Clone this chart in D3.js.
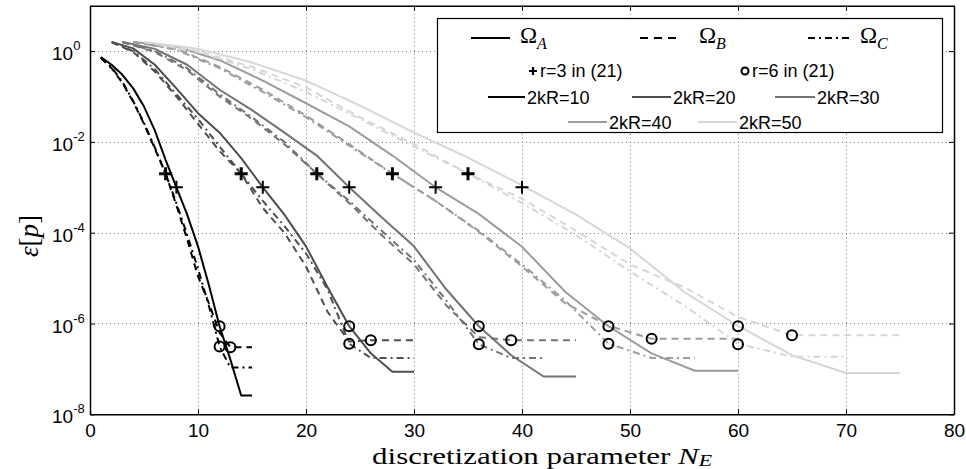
<!DOCTYPE html>
<html>
<head>
<meta charset="utf-8">
<script src="https://cdn.jsdelivr.net/npm/d3@7"></script>
<style>
  body { margin: 0; background: #fff; }
  svg { display: block; }
</style>
</head>
<body>
<svg id="chart" width="966" height="469"></svg>
<script>
// ---- axis ticks ----
const xTickValues = [0, 10, 20, 30, 40, 50, 60, 70, 80];
const xTickLabels = ["0", "10", "20", "30", "40", "50", "60", "70", "80"];
const yTickValues = [1e-8, 1e-6, 1e-4, 1e-2, 1e0];
const yTickExponents = ["-8", "-6", "-4", "-2", "0"];

// ---- discretization parameter N_E for each 2kR ----
const nE10 = [1, 2, 3, 4, 5, 6, 7, 8, 9, 10, 11, 12, 13, 14, 15];
const nE20 = [2, 4, 6, 8, 10, 12, 14, 16, 18, 20, 22, 24, 26, 28, 30];
const nE30 = [3, 6, 9, 12, 15, 18, 21, 24, 27, 30, 33, 36, 39, 42, 45];
const nE40 = [4, 8, 12, 16, 20, 24, 28, 32, 36, 40, 44, 48, 52, 56, 60];
const nE50 = [5, 10, 15, 20, 25, 30, 35, 40, 45, 50, 55, 60, 65, 70, 75];

// ---- relative error eps[p]; A = Omega_A, B = Omega_B, C = Omega_C ----
const errA10 = [0.74, 0.50, 0.30, 0.151, 0.060, 0.018, 4.0e-3, 1.0e-3, 2.5e-4, 5.0e-5, 7.1e-6, 8.7e-7, 1.6e-7, 2.6e-8, 2.6e-8];
const errB10 = [0.71, 0.42, 0.20, 0.076, 0.025, 7.1e-3, 2.0e-3, 4.0e-4, 7.1e-5, 1.1e-5, 2.8e-6, 6.3e-7, 3.0e-7, 3.0e-7, 3.0e-7];
const errC10 = [0.71, 0.44, 0.21, 0.079, 0.026, 7.6e-3, 2.0e-3, 4.5e-4, 8.9e-5, 1.6e-5, 2.5e-6, 3.1e-7, 1.07e-7, 1.07e-7, 1.07e-7];

const errA20 = [1.58, 1.15, 0.50, 0.151, 0.043, 0.016, 4.4e-3, 1.0e-3, 2.5e-4, 5.0e-5, 6.3e-6, 8.7e-7, 2.2e-7, 8.7e-8, 8.7e-8];
const errB20 = [1.58, 0.955, 0.355, 0.10, 0.025, 6.3e-3, 2.0e-3, 3.5e-4, 1.0e-4, 1.8e-5, 1.8e-6, 4.0e-7, 4.3e-7, 4.3e-7, 4.3e-7];
const errC20 = [1.58, 1.0, 0.40, 0.112, 0.032, 7.9e-3, 2.0e-3, 5.0e-4, 1.4e-4, 3.5e-5, 5.6e-6, 3.6e-7, 1.74e-7, 1.74e-7, 1.74e-7];

const errA30 = [1.58, 1.12, 0.50, 0.141, 0.050, 0.016, 5.0e-3, 1.0e-3, 2.2e-4, 5.0e-5, 5.6e-6, 8.7e-7, 2.0e-7, 6.8e-8, 6.8e-8];
const errB30 = [1.58, 0.955, 0.38, 0.10, 0.032, 8.9e-3, 2.0e-3, 4.5e-4, 8.9e-5, 2.0e-5, 2.5e-6, 5.0e-7, 4.3e-7, 4.3e-7, 4.3e-7];
const errC30 = [1.58, 1.0, 0.42, 0.112, 0.035, 0.010, 2.0e-3, 5.0e-4, 1.1e-4, 2.5e-5, 3.2e-6, 3.5e-7, 1.74e-7, 1.74e-7];

const errA40 = [1.58, 1.26, 0.63, 0.224, 0.071, 0.022, 5.0e-3, 1.0e-3, 2.6e-4, 4.9e-5, 5.0e-6, 8.7e-7, 2.2e-7, 9.1e-8, 9.1e-8];
const errB40 = [1.58, 1.12, 0.45, 0.141, 0.038, 8.9e-3, 2.0e-3, 5.0e-4, 1.05e-4, 1.8e-5, 2.8e-6, 8.9e-7, 4.6e-7, 4.6e-7, 4.6e-7];
const errC40 = [1.58, 1.07, 0.42, 0.126, 0.035, 8.3e-3, 2.0e-3, 5.0e-4, 1.1e-4, 2.0e-5, 3.2e-6, 3.6e-7, 1.74e-7, 1.74e-7];

const errA50 = [1.58, 1.12, 0.56, 0.224, 0.063, 0.016, 4.5e-3, 1.1e-3, 2.5e-4, 4.5e-5, 5.0e-6, 8.9e-7, 2.0e-7, 8.1e-8, 8.1e-8];
const errB50 = [1.58, 1.0, 0.45, 0.158, 0.035, 8.9e-3, 2.0e-3, 5.6e-4, 1.1e-4, 2.0e-5, 6.3e-6, 1.4e-6, 5.5e-7, 5.5e-7, 5.5e-7];
const errC50 = [1.58, 0.955, 0.40, 0.126, 0.032, 7.9e-3, 2.0e-3, 4.5e-4, 8.9e-5, 1.4e-5, 2.5e-6, 3.6e-7, 1.86e-7, 1.86e-7];

// ---- r=3 (+) and r=6 (o) predictions from (21) ----
const plusN_BC = [7, 14, 21, 28, 35];
const plusErr_BC = [2.0e-3, 2.0e-3, 2.0e-3, 2.0e-3, 2.0e-3];
const plusN_A = [8, 16, 24, 32, 40];
const plusErr_A = [1.0e-3, 1.0e-3, 1.0e-3, 1.0e-3, 1.0e-3];
const circN_A = [12, 24, 36, 48, 60];
const circErr_A = [8.7e-7, 8.7e-7, 8.7e-7, 8.7e-7, 8.7e-7];
const circN_C = [12, 24, 36, 48, 60];
const circErr_C = [3.1e-7, 3.6e-7, 3.5e-7, 3.6e-7, 3.5e-7];
const circN_B = [13, 26, 39, 52, 65];
const circErr_B = [3.0e-7, 4.3e-7, 4.3e-7, 4.6e-7, 5.5e-7];

const kRLabels = ["2kR=10", "2kR=20", "2kR=30", "2kR=40", "2kR=50"];

// ---- styling ----
const kRColors = ["#000000", "#4d4d4d", "#737373", "#9c9c9c", "#d6d6d6"];
const dashB = "7,5";
const dashC = "7,4,2,4";
const sansFont = "'Liberation Sans', Arial, Helvetica, sans-serif";
const serifFont = "'Liberation Serif', 'Times New Roman', serif";

const svg = d3.select("#chart");
const x = d3.scaleLinear().domain([0, 80]).range([90, 954]);
const y = d3.scaleLog().domain([1e-8, 10]).range([414.3, 5.7]);
const [yBottom, yTop] = y.range();
const [xLeft, xRight] = x.range();

// dotted grid
const grid = svg.append("g")
  .attr("stroke", "#7a7a7a").attr("stroke-width", 1).attr("stroke-dasharray", "1,3");
grid.selectAll("line.gx").data(xTickValues.slice(1, -1)).join("line")
  .attr("class", "gx")
  .attr("x1", d => Math.round(x(d)) + 0.5).attr("x2", d => Math.round(x(d)) + 0.5)
  .attr("y1", yTop).attr("y2", yBottom);
grid.selectAll("line.gy").data(yTickValues.slice(1)).join("line")
  .attr("class", "gy")
  .attr("x1", xLeft).attr("x2", xRight)
  .attr("y1", d => Math.round(y(d)) + 0.5).attr("y2", d => Math.round(y(d)) + 0.5);

// curves
const families = [
  { n: nE10, a: errA10, b: errB10, c: errC10 },
  { n: nE20, a: errA20, b: errB20, c: errC20 },
  { n: nE30, a: errA30, b: errB30, c: errC30 },
  { n: nE40, a: errA40, b: errB40, c: errC40 },
  { n: nE50, a: errA50, b: errB50, c: errC50 }
];
const line = d3.line().x(d => x(d[0])).y(d => y(d[1]));
const curves = svg.append("g").attr("fill", "none").attr("stroke-width", 2).attr("stroke-linejoin", "round");
families.forEach((f, i) => {
  const col = kRColors[i];
  curves.append("path").datum(d3.zip(f.n, f.c)).attr("d", line)
    .attr("stroke", col).attr("stroke-dasharray", dashC);
  curves.append("path").datum(d3.zip(f.n, f.b)).attr("d", line)
    .attr("stroke", col).attr("stroke-dasharray", dashB);
  curves.append("path").datum(d3.zip(f.n, f.a)).attr("d", line)
    .attr("stroke", col);
});

// markers
const plusPath = s => `M${-s},0H${s}M0,${-s}V${s}`;
const marks = svg.append("g").attr("fill", "none").attr("stroke", "#000");
marks.selectAll("path.pbc").data(d3.zip(plusN_BC, plusErr_BC)).join("path")
  .attr("class", "pbc").attr("d", plusPath(6.5)).attr("stroke-width", 3)
  .attr("transform", d => `translate(${x(d[0])},${y(d[1])})`);
marks.selectAll("path.pa").data(d3.zip(plusN_A, plusErr_A)).join("path")
  .attr("class", "pa").attr("d", plusPath(6.5)).attr("stroke-width", 2)
  .attr("transform", d => `translate(${x(d[0])},${y(d[1])})`);
const circData = [].concat(d3.zip(circN_A, circErr_A), d3.zip(circN_C, circErr_C), d3.zip(circN_B, circErr_B));
marks.selectAll("circle").data(circData).join("circle")
  .attr("cx", d => x(d[0])).attr("cy", d => y(d[1])).attr("r", 5).attr("stroke-width", 2);

// axes (box with inward ticks on all four sides)
const styleAxis = g => {
  g.select(".domain").attr("stroke", "#000").attr("stroke-width", 1.5);
  g.selectAll(".tick line").attr("stroke", "#000").attr("stroke-width", 1);
};
svg.append("g").attr("transform", `translate(0,${yBottom})`)
  .call(d3.axisBottom(x).tickValues(xTickValues).tickFormat((d, i) => xTickLabels[i])
    .tickSizeInner(-5).tickSizeOuter(0).tickPadding(9))
  .call(styleAxis)
  .call(g => g.selectAll("text").attr("font-size", 19).attr("font-family", sansFont).attr("fill", "#000"));
svg.append("g").attr("transform", `translate(0,${yTop})`)
  .call(d3.axisTop(x).tickValues(xTickValues).tickFormat(() => "").tickSizeInner(-5).tickSizeOuter(0))
  .call(styleAxis);
svg.append("g").attr("transform", `translate(${xLeft},0)`)
  .call(d3.axisLeft(y).tickValues(yTickValues).tickFormat(() => "").tickSizeInner(-5).tickSizeOuter(0))
  .call(styleAxis);
svg.append("g").attr("transform", `translate(${xRight},0)`)
  .call(d3.axisRight(y).tickValues(yTickValues).tickFormat(() => "").tickSizeInner(-5).tickSizeOuter(0))
  .call(styleAxis);

// y tick labels as 10^k
const yl = svg.append("g").attr("font-family", sansFont).attr("fill", "#000");
yTickValues.forEach((v, i) => {
  const t = yl.append("text").attr("x", 52).attr("y", y(v) + 9).attr("font-size", 19);
  t.append("tspan").text("10");
  t.append("tspan").attr("font-size", 13).attr("dy", -10).text(yTickExponents[i]);
});

// axis titles (serif face widened to the width of a TeX roman label)
const xTitle = svg.append("text").attr("font-family", serifFont).attr("font-size", 24)
  .attr("text-anchor", "middle").attr("x", 0).attr("y", 0).attr("fill", "#000");
xTitle.append("tspan").text("discretization parameter ");
xTitle.append("tspan").attr("font-style", "italic").text("N");
xTitle.append("tspan").attr("font-style", "italic").attr("font-size", "0.7em").attr("dy", "0.15em").text("E");
{
  const w = xTitle.node().getBBox().width;
  xTitle.attr("transform", `translate(542,463.5) scale(${340 / w},1)`);
}

const yTitle = svg.append("text").attr("font-family", serifFont).attr("font-size", 27)
  .attr("text-anchor", "middle").attr("fill", "#000")
  .attr("transform", "translate(38,236) rotate(-90)");
yTitle.append("tspan").attr("font-style", "italic").text("ε");
yTitle.append("tspan").text("[");
yTitle.append("tspan").attr("font-style", "italic").text("p");
yTitle.append("tspan").text("]");

// legend
const lg = svg.append("g");
lg.append("rect").attr("x", 437.5).attr("y", 18.5).attr("width", 505).attr("height", 114)
  .attr("fill", "#fff").attr("stroke", "#000").attr("stroke-width", 1.2);

const omegaItems = [
  { x1: 471, x2: 510, tx: 520, sub: "A", dash: null },
  { x1: 640, x2: 680, tx: 699, sub: "B", dash: "8,6" },
  { x1: 808, x2: 850, tx: 860, sub: "C", dash: "7,4,2,4" }
];
omegaItems.forEach(o => {
  lg.append("line").attr("x1", o.x1).attr("x2", o.x2).attr("y1", 38).attr("y2", 38)
    .attr("stroke", "#000").attr("stroke-width", 2).attr("stroke-dasharray", o.dash);
  const t = lg.append("text").attr("x", o.tx).attr("y", 43).attr("font-family", serifFont)
    .attr("font-size", 23).attr("fill", "#000");
  t.append("tspan").text("Ω");
  t.append("tspan").attr("font-style", "italic").attr("font-size", 16).attr("dy", 6).text(o.sub);
});

lg.append("path").attr("d", plusPath(4)).attr("transform", "translate(533,71)")
  .attr("stroke", "#000").attr("stroke-width", 2.2);
lg.append("text").attr("x", 540).attr("y", 77).attr("font-family", sansFont).attr("font-size", 18)
  .text("r=3 in (21)");
lg.append("circle").attr("cx", 745).attr("cy", 71).attr("r", 3.5)
  .attr("fill", "none").attr("stroke", "#000").attr("stroke-width", 2);
lg.append("text").attr("x", 752).attr("y", 77).attr("font-family", sansFont).attr("font-size", 18)
  .text("r=6 in (21)");

const kRItems = [
  { x1: 488, x2: 525, y: 97 },
  { x1: 632, x2: 671, y: 97 },
  { x1: 775, x2: 815, y: 97 },
  { x1: 568, x2: 607, y: 122 },
  { x1: 698, x2: 737, y: 122 }
];
kRItems.forEach((it, i) => {
  lg.append("line").attr("x1", it.x1).attr("x2", it.x2).attr("y1", it.y).attr("y2", it.y)
    .attr("stroke", kRColors[i]).attr("stroke-width", 2);
  lg.append("text").attr("x", it.x2 + 2).attr("y", it.y + 6.5).attr("font-family", sansFont)
    .attr("font-size", 18).attr("fill", "#000").text(kRLabels[i]);
});
</script>
</body>
</html>
